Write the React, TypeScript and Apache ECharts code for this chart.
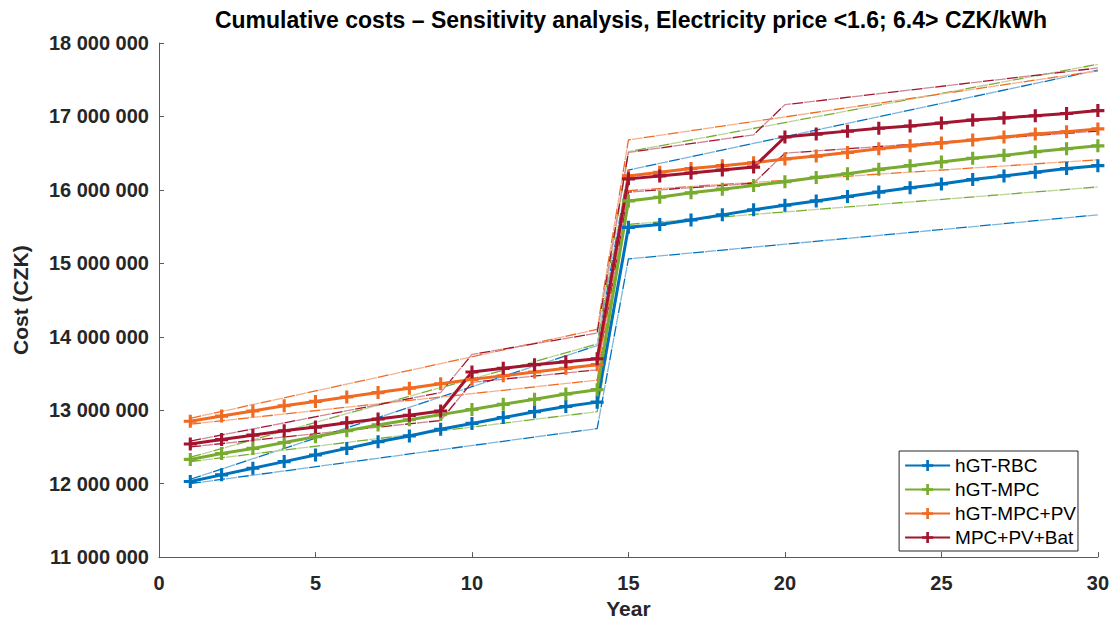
import React, { useEffect, useRef } from "react";
import * as echarts from "echarts";

// ---- data (values in millions of CZK) ----
const years = [1,2,3,4,5,6,7,8,9,10,11,12,13,14,15,16,17,18,19,20,21,22,23,24,25,26,27,28,29,30];

const seriesNames = ["hGT-RBC", "hGT-MPC", "hGT-MPC+PV", "MPC+PV+Bat"];

const hgtRbc = [12.03,12.12,12.21,12.30,12.39,12.48,12.57,12.65,12.74,12.82,12.90,12.98,13.05,13.11,15.49,15.53,15.59,15.66,15.73,15.79,15.85,15.91,15.97,16.03,16.08,16.14,16.19,16.24,16.29,16.33];
const hgtMpc = [12.33,12.41,12.48,12.56,12.64,12.72,12.80,12.87,12.94,13.01,13.08,13.15,13.22,13.28,15.85,15.90,15.96,16.01,16.06,16.11,16.17,16.22,16.28,16.33,16.38,16.43,16.47,16.52,16.56,16.60];
const hgtMpcPv = [12.85,12.92,12.99,13.06,13.12,13.18,13.24,13.30,13.36,13.42,13.47,13.52,13.57,13.62,16.19,16.24,16.29,16.33,16.37,16.42,16.46,16.51,16.56,16.60,16.64,16.68,16.72,16.76,16.79,16.83];
const mpcPvBat = [12.54,12.60,12.66,12.72,12.77,12.83,12.88,12.93,12.99,13.52,13.57,13.62,13.66,13.70,16.15,16.19,16.23,16.27,16.31,16.72,16.76,16.80,16.84,16.87,16.91,16.95,16.98,17.01,17.04,17.08];

// sensitivity bounds: [year, value] breakpoints
const rbcHigh = [[1,12.06],[14,13.88],[15,16.27],[30,17.63]];
const rbcLow = [[1,12.00],[14,12.75],[15,15.06],[30,15.66]];
const mpcHigh = [[1,12.36],[14,13.90],[15,16.52],[30,17.71]];
const mpcLow = [[1,12.30],[14,12.98],[15,15.53],[30,16.04]];
const pvHigh = [[1,12.89],[14,14.10],[15,16.68],[30,17.62]];
const pvLow = [[1,12.81],[14,13.41],[15,15.99],[30,16.41]];
const batHigh = [[1,12.58],[9,13.24],[10,13.76],[14,14.05],[15,16.51],[19,16.75],[20,17.16],[30,17.66]];
const batLow = [[1,12.50],[9,12.86],[10,13.38],[14,13.55],[15,15.97],[19,16.09],[20,16.50],[30,16.80]];

const xTicks = [0, 5, 10, 15, 20, 25, 30];

const colors = ["#0072BD", "#77AC30", "#F06A22", "#A2142F"];
const lightColors = ["#7DB7DF", "#BAD596", "#F7B18C", "#D0899A"];

const FONT = "'Liberation Sans', Arial, Helvetica, sans-serif";
const PLUS = "path://M3.8,0H6.2V3.8H10V6.2H6.2V10H3.8V6.2H0V3.8H3.8Z";

const fmt = (v: number) => String(Math.round(v)).replace(/\B(?=(\d{3})+(?!\d))/g, " ");

export default function App() {
  const ref = useRef<HTMLDivElement>(null);
  useEffect(() => {
    if (!ref.current) return;
    const chart = echarts.init(ref.current, undefined, { renderer: "svg" });
    const mains = [hgtRbc, hgtMpc, hgtMpcPv, mpcPvBat];
    const bounds = [
      [rbcHigh, rbcLow],
      [mpcHigh, mpcLow],
      [pvHigh, pvLow],
      [batHigh, batLow],
    ];
    const series: any[] = [];
    bounds.forEach((pair, i) => {
      pair.forEach((b, j) => {
        const d = b.map((p) => [p[0], p[1] * 1e6]);
        series.push({
          name: `bound-${i}-${j}-dark`,
          type: "line",
          data: d,
          symbol: "none",
          silent: true,
          lineStyle: { color: colors[i], width: 1.3, type: [11, 13], dashOffset: 0 },
          z: 1,
        });
        series.push({
          name: `bound-${i}-${j}-light`,
          type: "line",
          data: d,
          symbol: "none",
          silent: true,
          lineStyle: { color: lightColors[i], width: 1.3, type: [11, 13], dashOffset: 12 },
          z: 1,
        });
      });
    });
    mains.forEach((m, i) => {
      series.push({
        name: seriesNames[i],
        type: "line",
        data: years.map((y, k) => [y, m[k] * 1e6]),
        symbol: PLUS,
        symbolSize: 13,
        lineStyle: { color: colors[i], width: 3 },
        itemStyle: { color: colors[i] },
        z: 3,
      });
    });

    chart.setOption({
      animation: false,
      backgroundColor: "#ffffff",
      textStyle: { fontFamily: FONT },
      graphic: [
        {
          type: "text",
          x: 631,
          y: 20,
          style: {
            text: "Cumulative costs \u2013 Sensitivity analysis, Electricity price <1.6; 6.4> CZK/kWh",
            font: `bold 23px ${FONT}`,
            fill: "#000000",
            align: "center",
            verticalAlign: "middle",
          },
        },
      ],
      grid: { left: 159, right: 13, top: 43, bottom: 61, containLabel: false },
      legend: {
        data: seriesNames,
        orient: "vertical",
        right: 34,
        top: 451,
        padding: [5, 2, 4, 5],
        itemGap: 5,
        itemWidth: 45,
        itemHeight: 14,
        borderColor: "#262626",
        borderWidth: 1,
        borderRadius: 0,
        backgroundColor: "#ffffff",
        textStyle: { fontSize: 19, color: "#000000", fontFamily: FONT },
      },
      xAxis: {
        type: "value",
        min: 0,
        max: 30,
        interval: 5,
        name: "Year",
        nameLocation: "middle",
        nameGap: 39,
        nameTextStyle: { fontSize: 21, fontWeight: "bold", color: "#262626", fontFamily: FONT },
        axisLine: { show: true, onZero: false, lineStyle: { color: "#5a5a5a", width: 1 } },
        axisTick: { show: true, inside: true, length: 5, lineStyle: { color: "#5a5a5a" } },
        axisLabel: {
          fontSize: 20,
          fontWeight: "bold",
          color: "#262626",
          margin: 16,
          customValues: xTicks,
        },
        splitLine: { show: false },
      },
      yAxis: {
        type: "value",
        min: 11e6,
        max: 18e6,
        interval: 1e6,
        name: "Cost (CZK)",
        nameLocation: "middle",
        nameGap: 128,
        nameTextStyle: { fontSize: 21, fontWeight: "bold", color: "#262626", fontFamily: FONT },
        axisLine: { show: true, lineStyle: { color: "#5a5a5a", width: 1 } },
        axisTick: { show: true, inside: true, length: 5, lineStyle: { color: "#5a5a5a" } },
        axisLabel: {
          fontSize: 20,
          fontWeight: "bold",
          color: "#262626",
          margin: 10,
          formatter: (v: number) => fmt(v),
        },
        splitLine: { show: false },
      },
      series,
    });
    return () => chart.dispose();
  }, []);
  return (
    <div
      ref={ref}
      style={{ position: "absolute", left: 0, top: 0, width: 1112, height: 624 }}
    />
  );
}
